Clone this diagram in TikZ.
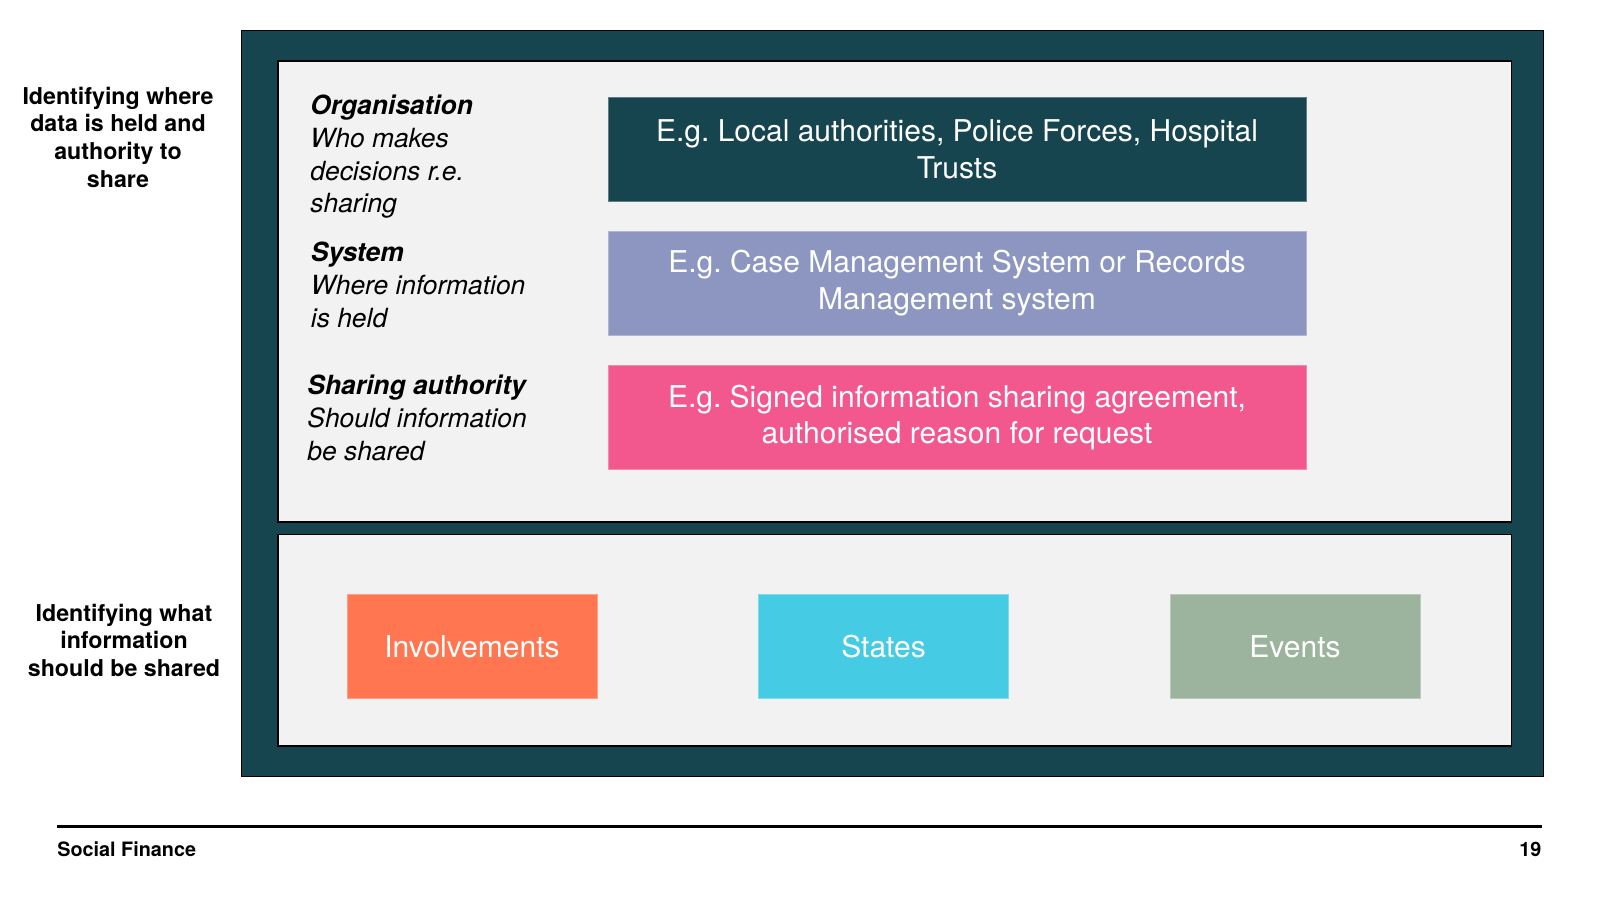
\documentclass[tikz,border=0pt]{standalone}
\usepackage{fontspec}
\setmainfont{TeX Gyre Heros}
\frenchspacing
\definecolor{teal}{HTML}{16454F}
\definecolor{panel}{HTML}{F2F2F2}
\definecolor{purp}{HTML}{8C96C0}
\definecolor{pinkc}{HTML}{F2578E}
\definecolor{orangec}{HTML}{FF7651}
\definecolor{cyanc}{HTML}{45CCE4}
\definecolor{sage}{HTML}{9CB49D}
\tikzset{
  cbox/.style={rectangle, inner sep=0pt, minimum width=349pt, minimum height=51.85pt,
    text=white, align=center, font=\fontsize{15pt}{18.3pt}\selectfont, line width=0.5pt},
  sbox/.style={rectangle, inner sep=0pt, minimum width=125pt, minimum height=52pt,
    text=white, align=center, font=\fontsize{15pt}{18.3pt}\selectfont, line width=0.5pt},
  lefttxt/.style={anchor=north west, inner sep=0pt, align=left, font=\fontsize{13.2pt}{16.4pt}\selectfont\itshape},
  sidelabel/.style={anchor=north, inner sep=0pt, align=center, font=\fontsize{11.6pt}{13.9pt}\selectfont\bfseries},
  foot/.style={inner sep=0pt, font=\fontsize{9.9pt}{11pt}\selectfont\bfseries}
}
\begin{document}
\begin{tikzpicture}[x=0.5pt,y=-0.5pt]
\useasboundingbox (0,0) rectangle (1600,900);
\fill[white] (0,0) rectangle (1600,900);
% frames
\filldraw[fill=teal, draw=black, line width=0.5pt] (241.7,30) rectangle (1543.3,776.7);
\filldraw[fill=panel, draw=black, line width=0.8pt] (277.7,60.7) rectangle (1511.3,521.7);
\filldraw[fill=panel, draw=black, line width=0.8pt] (277.7,534.3) rectangle (1511.3,745.7);
% colored boxes
\node[cbox, fill=teal, draw=teal!70!white] (org) at (957,149.2) {E.g. Local authorities, Police Forces, Hospital\\Trusts};
\node[cbox, fill=purp, draw=purp!70!white] (sys) at (957,283.3) {E.g. Case Management System or Records\\Management system};
\node[cbox, fill=pinkc, draw=pinkc!70!white] (auth) at (957,417.5) {E.g. Signed information sharing agreement,\\authorised reason for request};
\node[sbox, fill=orangec, draw=orangec!70!white] (inv) at (472,646.3) {Involvements};
\node[sbox, fill=cyanc, draw=cyanc!70!white] (states) at (883.5,646.3) {States};
\node[sbox, fill=sage, draw=sage!70!white] (events) at (1295,646.3) {Events};
% left texts inside panel
\node[lefttxt] (orgt) at (310,94.5) {\textbf{Organisation}\\Who makes\\decisions r.e.\\sharing};
\node[lefttxt] (syst) at (310.5,241.5) {\textbf{System}\\Where information\\is held};
\node[lefttxt] (autht) at (307,375) {\textbf{Sharing authority}\\Should information\\be shared};
% side labels
\node[sidelabel] (side1) at (118,86.5) {Identifying where\\data is held and\\authority to\\share};
\node[sidelabel] (side2) at (124,603.5) {Identifying what\\information\\should be shared};
% footer
\coordinate (fl) at (57,826.7);
\coordinate (fr) at (1541.5,826.7);
\draw[line width=1.5pt, black] (fl) -- (fr);
\node[foot, anchor=base west] (sf) at (57,856.7) {Social Finance};
\node[foot, anchor=base east] (pg) at (1541.7,856.7) {19};
\end{tikzpicture}
\end{document}
